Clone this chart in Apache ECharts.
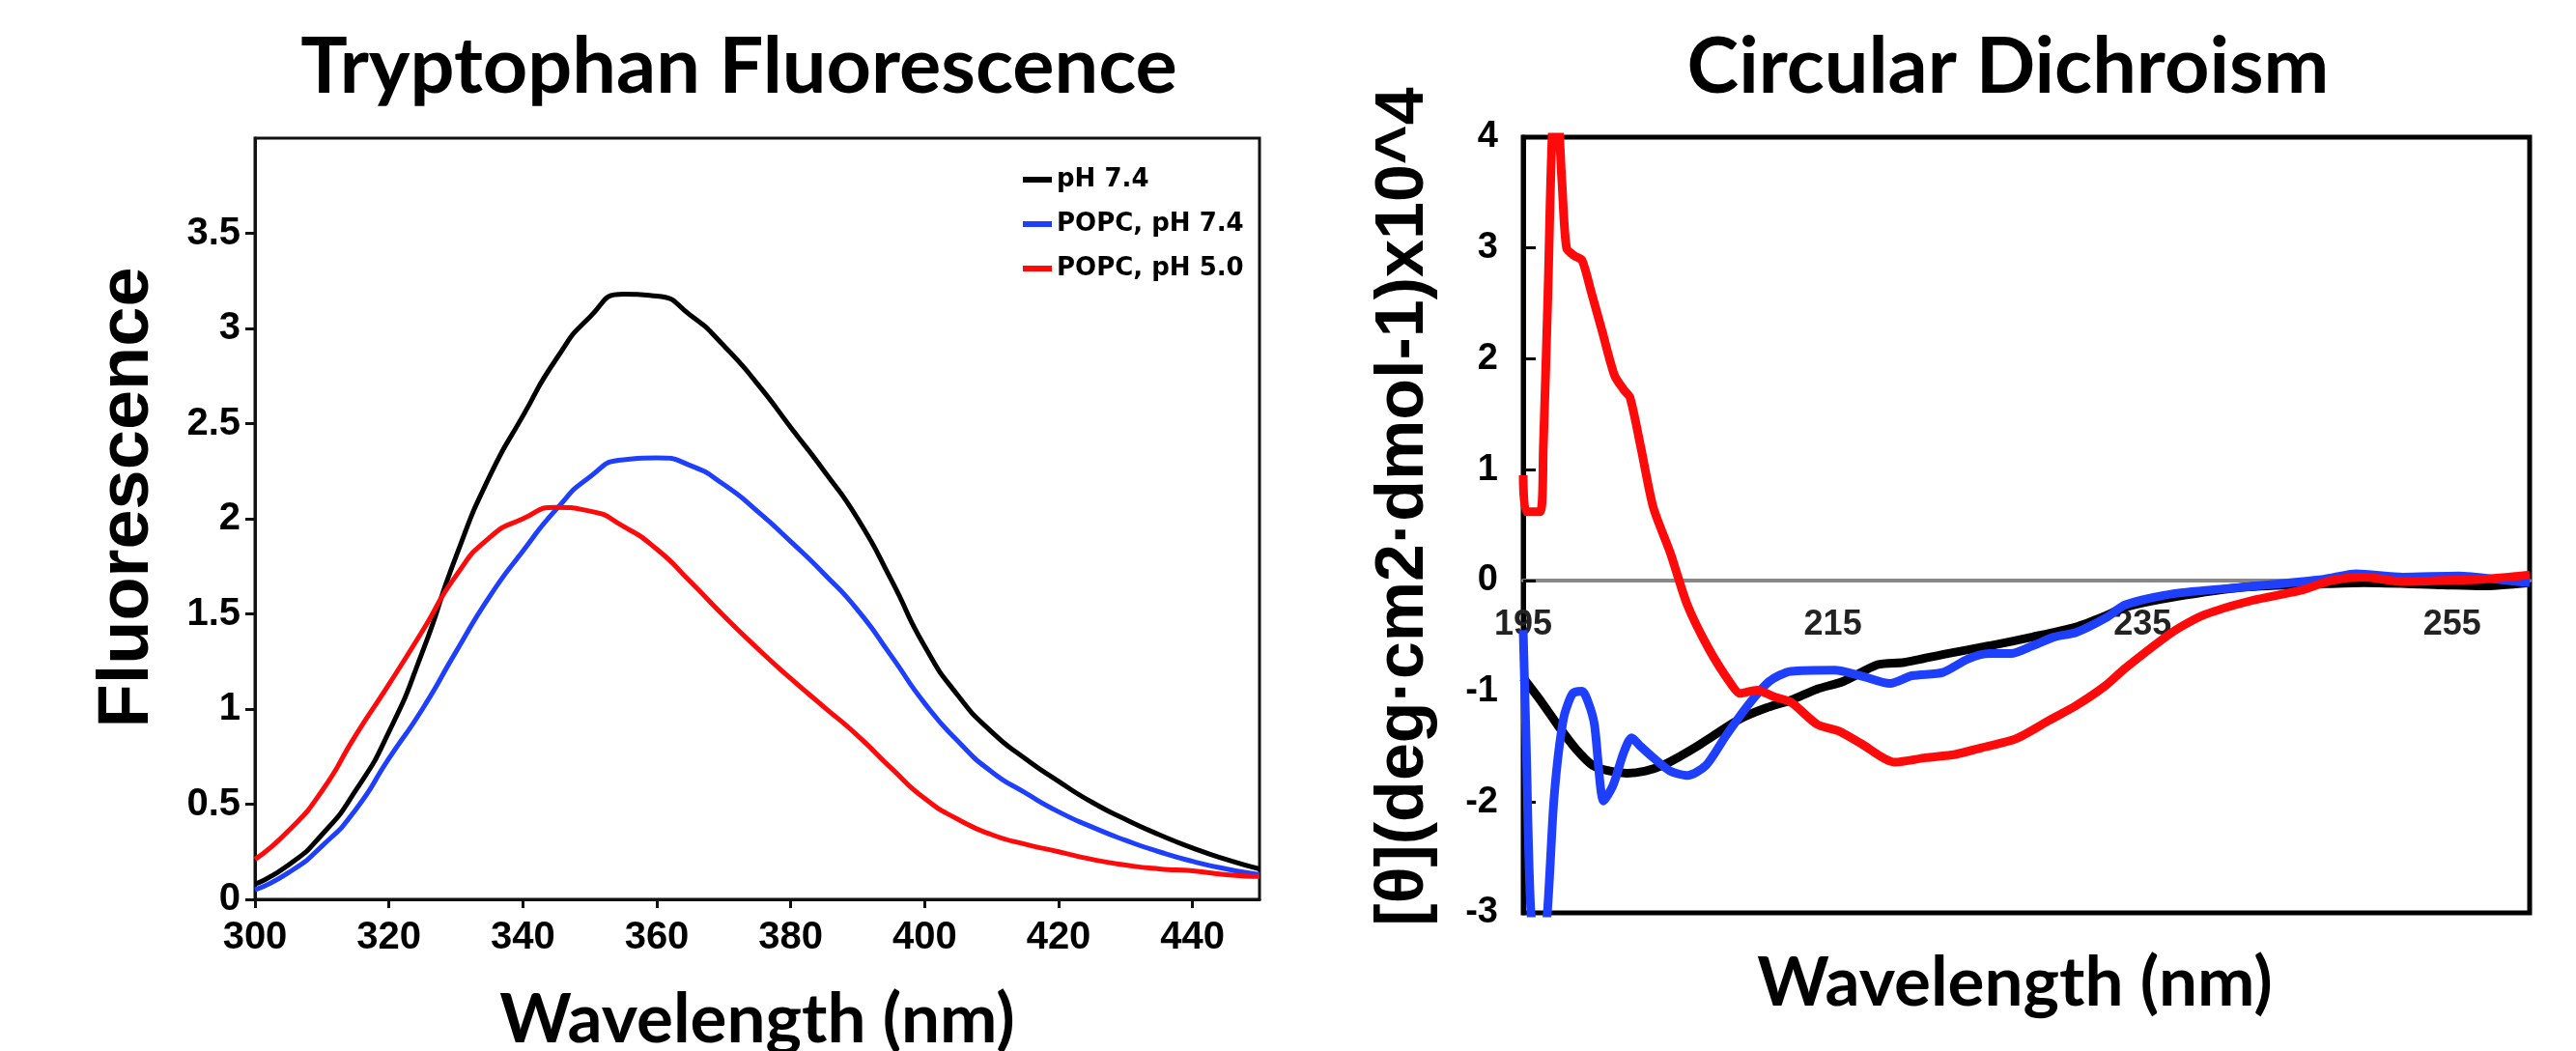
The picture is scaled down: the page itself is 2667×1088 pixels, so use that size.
<!DOCTYPE html>
<html>
<head>
<meta charset="utf-8">
<title>Tryptophan Fluorescence / Circular Dichroism</title>
<script src="https://cdn.jsdelivr.net/npm/echarts@6/dist/echarts.min.js"></script>
<style>
  html, body { margin: 0; padding: 0; background: #fff; }
  #chart { width: 2667px; height: 1088px; }
</style>
</head>
<body>
<div id="chart"></div>
<script>
// --- Tryptophan fluorescence (left) ---
const flNm = [300, 305, 310, 315, 320, 325, 330, 335, 340, 345, 350, 355, 360, 365, 370, 375,
              380, 385, 390, 395, 400, 405, 410, 415, 420, 425, 430, 435, 440, 445, 450];
const flPH74 = [0.08, 0.18, 0.34, 0.57, 0.88, 1.30, 1.80, 2.22, 2.54, 2.84, 3.06, 3.18, 3.17, 3.07, 2.91, 2.71,
                2.48, 2.25, 2.00, 1.68, 1.33, 1.07, 0.88, 0.74, 0.62, 0.51, 0.42, 0.34, 0.27, 0.21, 0.16];
const flPOPC74 = [0.05, 0.14, 0.28, 0.47, 0.74, 1.00, 1.30, 1.59, 1.83, 2.05, 2.22, 2.31, 2.32, 2.28, 2.18, 2.04,
                  1.88, 1.71, 1.52, 1.28, 1.03, 0.83, 0.67, 0.56, 0.46, 0.38, 0.31, 0.25, 0.20, 0.16, 0.13];
const flPOPC50 = [0.21, 0.36, 0.57, 0.86, 1.13, 1.41, 1.70, 1.90, 2.00, 2.06, 2.04, 1.96, 1.84, 1.67, 1.49, 1.32,
                  1.16, 1.01, 0.86, 0.69, 0.53, 0.42, 0.34, 0.29, 0.25, 0.21, 0.18, 0.16, 0.15, 0.13, 0.12];
const flNames = ['pH 7.4', 'POPC, pH 7.4', 'POPC, pH 5.0'];

// --- Circular dichroism (right) ---
const cdBlackNm = [195.0, 196.2, 197.3, 198.4, 199.5, 200.6, 201.7, 202.9, 204.0, 205.1, 206.2, 207.3, 209.0, 210.7,
                   212.3, 214.0, 215.7, 217.9, 219.6, 222.4, 225.1, 227.9, 230.7, 232.6, 233.9, 237.0, 241.6, 246.7,
                   249.3, 254.4, 256.9, 260.0];
const cdBlack = [-0.88, -1.10, -1.32, -1.52, -1.67, -1.72, -1.74, -1.72, -1.67, -1.59, -1.50, -1.40, -1.25, -1.15,
                 -1.08, -0.98, -0.91, -0.76, -0.74, -0.66, -0.59, -0.51, -0.42, -0.32, -0.24, -0.15, -0.06, -0.03,
                 -0.02, -0.04, -0.05, -0.02];

const cdBlueNm = [195.0, 195.2, 195.5, 196.0, 196.5, 197.0, 197.6, 198.2, 198.8, 199.2, 199.6, 200.2, 200.8, 201.5,
                  202.0, 202.6, 203.4, 204.5, 205.6, 206.8, 208.1, 209.5, 210.9, 212.3, 215.1, 216.8, 218.7, 220.1,
                  222.1, 223.7, 225.1, 226.5, 227.9, 229.3, 230.7, 232.6, 233.9, 237.0, 241.6, 246.7, 248.8, 251.8,
                  255.4, 258.5, 260.0];
const cdBlue = [-0.45, -1.50, -3.00, -3.40, -3.10, -1.95, -1.25, -1.02, -1.00, -1.10, -1.30, -1.99, -1.85, -1.55,
                -1.42, -1.50, -1.60, -1.72, -1.76, -1.67, -1.40, -1.13, -0.91, -0.82, -0.81, -0.86, -0.93, -0.86,
                -0.83, -0.71, -0.66, -0.66, -0.59, -0.51, -0.47, -0.34, -0.22, -0.12, -0.06, 0.01, 0.06, 0.03,
                0.04, 0.00, -0.02];

const cdRedNm = [195.0, 195.2, 196.1, 196.3, 196.6, 196.9, 197.2, 197.5, 197.8, 198.3, 198.8, 199.4, 200.1, 200.9,
                 201.5, 201.9, 202.6, 203.4, 204.5, 205.6, 207.0, 208.4, 209.0, 210.1, 211.2, 212.3, 214.0, 215.4,
                 216.8, 219.0, 221.0, 222.9, 224.6, 226.8, 229.0, 230.7, 232.6, 233.9, 237.0, 239.0, 242.1, 245.2,
                 247.2, 249.3, 251.8, 254.4, 256.9, 260.0];
const cdRed = [0.95, 0.62, 0.62, 1.20, 2.60, 4.10, 4.20, 3.60, 3.00, 2.93, 2.89, 2.60, 2.25, 1.85,
               1.72, 1.65, 1.20, 0.66, 0.25, -0.22, -0.62, -0.93, -1.02, -0.99, -1.05, -1.10, -1.30, -1.36,
               -1.47, -1.64, -1.60, -1.57, -1.51, -1.43, -1.26, -1.13, -0.95, -0.79, -0.46, -0.31, -0.18, -0.09,
               0.00, 0.03, -0.01, 0.00, 0.01, 0.05];

const BLACK = '#000000', BLUE = '#1f3fff', RED = '#ff0a0a';
const tickFont = 'Liberation Sans';
const titleFont = 'Lato';

const pairs = (xs, ys) => xs.map((x, i) => [x, ys[i]]);

const chart = echarts.init(document.getElementById('chart'), null, { renderer: 'canvas' });

const option = {
    backgroundColor: '#ffffff',
    animation: false,
    title: [
        {
            text: 'Tryptophan Fluorescence',
            left: 760, top: 24, textAlign: 'center',
            textStyle: { fontFamily: titleFont, fontWeight: 'bold', fontSize: 81, color: '#000' }
        },
        {
            text: 'Circular Dichroism',
            left: 2074, top: 24, textAlign: 'center',
            textStyle: { fontFamily: titleFont, fontWeight: 'bold', fontSize: 81, color: '#000' }
        }
    ],
    legend: {
        data: flNames,
        orient: 'vertical',
        left: 1054, top: 167,
        itemWidth: 30, itemHeight: 6, itemGap: 18,
        icon: 'rect',
        textStyle: { fontFamily: 'DejaVu Sans', fontWeight: 'bold', fontSize: 26, color: '#000', lineHeight: 28 }
    },
    grid: [
        { left: 264, top: 143, width: 1040, height: 788, show: true, borderColor: '#111', borderWidth: 3,
          outerBoundsMode: 'none' },
        { left: 1577, top: 142, width: 1042, height: 803, show: true, borderColor: '#000', borderWidth: 5,
          outerBoundsMode: 'none' }
    ],
    xAxis: [
        {
            gridIndex: 0, type: 'value', min: 300, max: 450, interval: 20,
            axisLine: { onZero: false, lineStyle: { color: '#111', width: 3 } },
            axisTick: { length: 9, lineStyle: { color: '#111', width: 3 } },
            axisLabel: { margin: 20, fontFamily: tickFont, fontWeight: 'bold', fontSize: 40, color: '#000', showMaxLabel: false },
            splitLine: { show: false },
            name: 'Wavelength (nm)', nameLocation: 'middle', nameGap: 90,
            nameTextStyle: { fontFamily: titleFont, fontWeight: 'bold', fontSize: 71, color: '#000' }
        },
        {
            // zero line of the CD plot; tick labels sit just under it
            gridIndex: 1, type: 'value', min: 195, max: 260, interval: 20,
            axisLine: { onZero: true, lineStyle: { color: '#888', width: 4 } },
            axisTick: { show: false },
            axisLabel: { margin: -316, fontFamily: tickFont, fontWeight: 'bold', fontSize: 36, color: '#222', showMaxLabel: false },
            splitLine: { show: false },
            name: 'Wavelength (nm)', nameLocation: 'middle', nameGap: 38,
            nameTextStyle: { fontFamily: titleFont, fontWeight: 'bold', fontSize: 71, color: '#000', padding: [0, 24, 0, 0] }
        }
    ],
    yAxis: [
        {
            gridIndex: 0, type: 'value', min: 0, max: 4, interval: 0.5,
            axisLine: { show: true, onZero: false, lineStyle: { color: '#111', width: 3 } },
            axisTick: { show: true, length: 10, lineStyle: { color: '#111', width: 3 } },
            axisLabel: { margin: 15, fontFamily: tickFont, fontWeight: 'bold', fontSize: 40, color: '#000', showMaxLabel: false },
            splitLine: { show: false },
            name: 'Fluorescence', nameLocation: 'middle', nameRotate: 90, nameGap: 94,
            nameTextStyle: { fontFamily: tickFont, fontWeight: 'bold', fontSize: 74, color: '#000', padding: [0, 0, 0, 44] }
        },
        {
            gridIndex: 1, type: 'value', min: -3, max: 4, interval: 1,
            axisLine: { show: true, onZero: false, lineStyle: { color: '#000', width: 5 } },
            axisTick: { show: true, inside: true, length: 13, lineStyle: { color: '#000', width: 3 } },
            axisLabel: { margin: 26, fontFamily: tickFont, fontWeight: 'bold', fontSize: 38, color: '#000' },
            splitLine: { show: false },
            name: '[θ](deg·cm2·dmol-1)x10^4', nameLocation: 'middle', nameRotate: 90, nameGap: 88,
            nameTextStyle: { fontFamily: tickFont, fontWeight: 'bold', fontSize: 70, color: '#000', padding: [0, 0, 0, 38] }
        }
    ],
    series: [
        { name: flNames[0], type: 'line', xAxisIndex: 0, yAxisIndex: 0, data: pairs(flNm, flPH74),
          smooth: 0.6, showSymbol: false, lineStyle: { color: BLACK, width: 5 }, itemStyle: { color: BLACK } },
        { name: flNames[1], type: 'line', xAxisIndex: 0, yAxisIndex: 0, data: pairs(flNm, flPOPC74),
          smooth: 0.6, showSymbol: false, lineStyle: { color: BLUE, width: 5 }, itemStyle: { color: BLUE } },
        { name: flNames[2], type: 'line', xAxisIndex: 0, yAxisIndex: 0, data: pairs(flNm, flPOPC50),
          smooth: 0.6, showSymbol: false, lineStyle: { color: RED, width: 5 }, itemStyle: { color: RED } },

        { name: 'CD pH 7.4', type: 'line', xAxisIndex: 1, yAxisIndex: 1, data: pairs(cdBlackNm, cdBlack),
          smooth: 0.25, showSymbol: false, lineStyle: { color: BLACK, width: 9 }, itemStyle: { color: BLACK } },
        { name: 'CD POPC, pH 7.4', type: 'line', xAxisIndex: 1, yAxisIndex: 1, data: pairs(cdBlueNm, cdBlue),
          smooth: 0.25, showSymbol: false, lineStyle: { color: BLUE, width: 9 }, itemStyle: { color: BLUE } },
        { name: 'CD POPC, pH 5.0', type: 'line', xAxisIndex: 1, yAxisIndex: 1, data: pairs(cdRedNm, cdRed),
          smooth: 0.25, showSymbol: false, lineStyle: { color: RED, width: 9 }, itemStyle: { color: RED } }
    ]
};

chart.setOption(option);
</script>
</body>
</html>
